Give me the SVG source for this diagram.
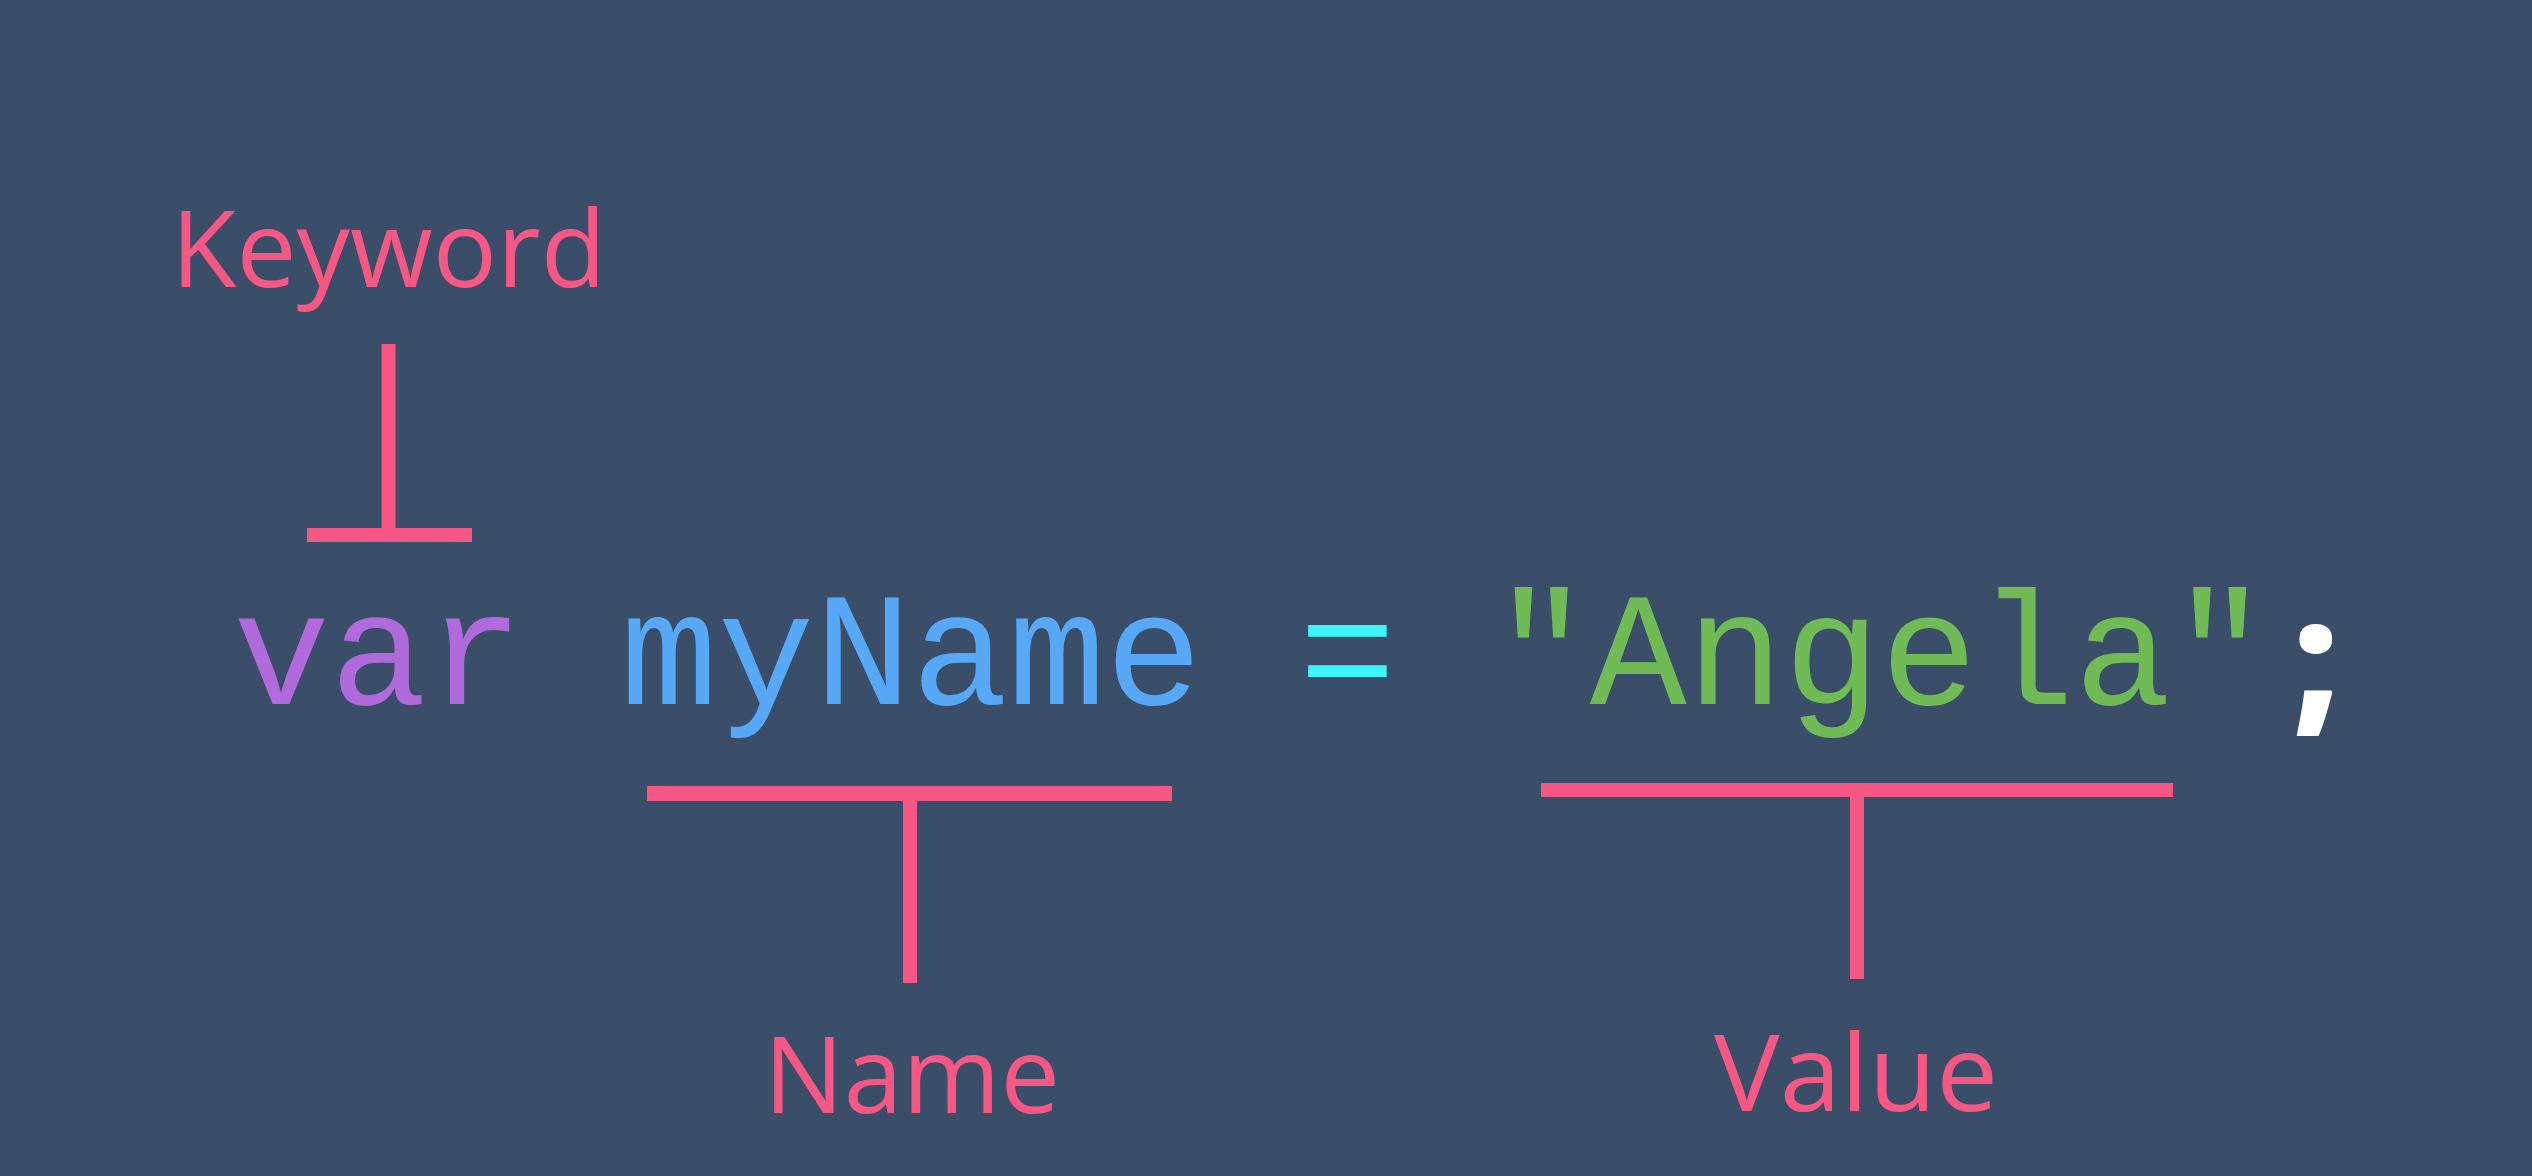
<svg xmlns="http://www.w3.org/2000/svg" width="2532" height="1176" viewBox="0 0 2532 1176">
  <style>
    .label { font-family: "Open Sans", Lato, "Liberation Sans", sans-serif; font-size: 107px; fill: #F75783; text-anchor: middle; }
    .code { font-family: "Liberation Mono", "DejaVu Sans Mono", monospace; font-size: 161.5px; }
    .bar { stroke: #F75783; stroke-linecap: butt; fill: none; }
  </style>
  <rect width="2532" height="1176" fill="#3A4E6A"/>

  <g id="connectors">
    <line class="bar" x1="388.5" y1="344" x2="388.5" y2="535" stroke-width="14"/>
    <line class="bar" x1="307" y1="535" x2="472" y2="535" stroke-width="14"/>
    <line class="bar" x1="647" y1="793.5" x2="1172" y2="793.5" stroke-width="15"/>
    <line class="bar" x1="910" y1="793" x2="910" y2="983" stroke-width="14"/>
    <line class="bar" x1="1541" y1="790" x2="2173" y2="790" stroke-width="14"/>
    <line class="bar" x1="1857" y1="790" x2="1857" y2="979" stroke-width="14"/>
  </g>

  <g id="keyword-label">
    <text class="label" x="388.5" y="287" textLength="435" lengthAdjust="spacingAndGlyphs">Keyword</text>
  </g>
  <g id="name-label">
    <text class="label" x="912" y="1113" textLength="296" lengthAdjust="spacingAndGlyphs">Name</text>
  </g>
  <g id="value-label">
    <text class="label" x="1856" y="1111" textLength="284" lengthAdjust="spacingAndGlyphs">Value</text>
  </g>

  <g id="code-var">
    <text class="code" x="233" y="704" fill="#B06ADB">var</text>
  </g>
  <g id="code-name">
    <text class="code" x="620.6" y="704" fill="#57A8F7">myName</text>
  </g>
  <g id="code-equals">
    <text class="code" x="1299" y="704" fill="#3DF5F8">=</text>
  </g>
  <g id="code-value">
    <text class="code" x="1492.8" y="704" fill="#70BB55">"Angela"</text>
  </g>
  <g id="code-semicolon">
    <text x="2316" y="714" text-anchor="middle" font-family="'Open Sans', 'Liberation Sans', sans-serif" font-weight="800" font-size="160" fill="#FFFFFF">;</text>
  </g>
</svg>
